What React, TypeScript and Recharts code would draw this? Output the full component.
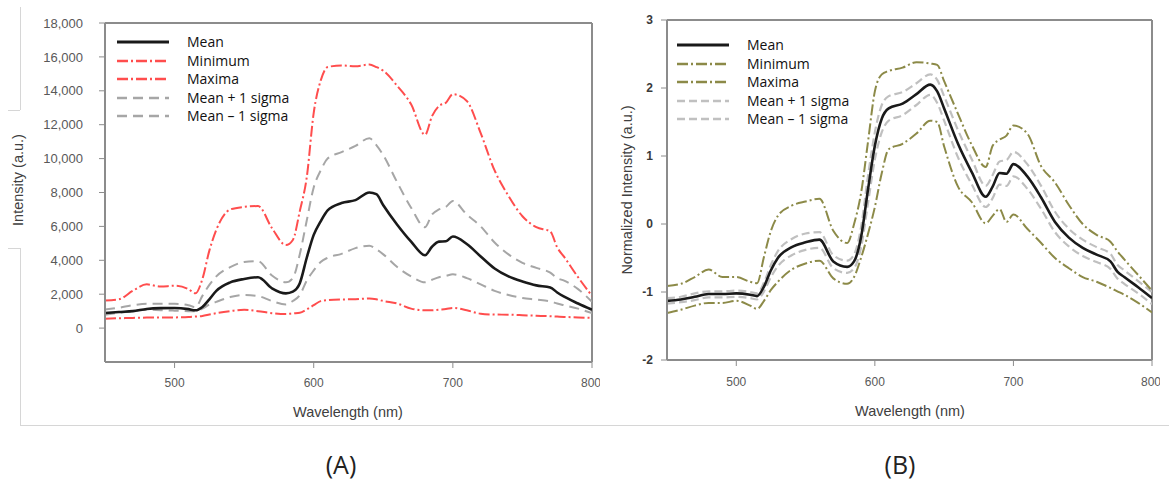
// Two spectral panels: (A) raw intensity, (B) normalized intensity.
import React from "react";
import { LineChart, Line, XAxis, YAxis, ReferenceLine } from "recharts";

// ---- data ------------------------------------------------------------------
const WAVELENGTH = [
  450, 460, 470, 480, 490, 500, 510, 515, 520, 525, 530, 540, 550, 560, 570, 580,
  585, 590, 595, 600, 605, 610, 620, 630, 640, 645, 650, 660, 670, 680, 685, 690,
  695, 700, 710, 720, 730, 740, 750, 760, 770, 775, 780, 790, 800,
];

// panel A (a.u.)
const A_MEAN = [
  890, 950, 1000, 1130, 1180, 1190, 1120, 1050, 1250, 1700, 2200, 2700, 2900, 3000, 2350, 2050,
  2150, 2650, 4150, 5500, 6300, 6950, 7380, 7550, 8000, 7900, 7250, 6100, 5100, 4300, 4800, 5100,
  5120, 5400, 4960, 4230, 3520, 3050, 2750, 2520, 2400, 2100, 1850, 1450, 1080,
];
const A_MIN = [
  550, 580, 600, 620, 620, 630, 650, 680, 720, 800, 880, 1000, 1080, 1000, 880, 830,
  870, 900, 1100, 1350, 1590, 1650, 1690, 1700, 1750, 1700, 1600, 1450, 1150, 1050, 1050, 1090,
  1120, 1190, 1050, 850, 800, 790, 760, 730, 700, 680, 660, 630, 600,
];
const A_MAX = [
  1630, 1700, 2200, 2580, 2450, 2500, 2300, 2050, 2900, 4570, 5800, 7000, 7150, 7200, 5900, 4900,
  5200, 6900, 8900, 12700, 14600, 15400, 15500, 15450, 15550, 15400, 15180, 14290, 13200, 11400, 12500, 13100,
  13300, 13800, 13400, 11500, 9300, 7800, 6600, 5950, 5700, 4760, 4200, 3000, 1900,
];
const A_PLUS = [
  1090, 1200, 1350, 1430, 1430, 1430, 1350, 1230, 1900, 2550, 3050, 3600, 3900, 3950, 3100, 2700,
  2950, 4360, 6350, 8300, 9300, 10000, 10380, 10750, 11200, 10800, 10200, 8600, 7100, 5950, 6700, 7000,
  7150, 7500, 6700, 6000, 5050, 4350, 3850, 3550, 3270, 2950, 2800, 2300, 1550,
];
const A_MINUS = [
  790, 900, 1000, 1090, 1060, 1030, 1000, 990, 1150, 1390, 1550, 1830, 1950, 1890, 1600, 1390,
  1600, 1950, 2800, 3400, 3900, 4150, 4380, 4720, 4860, 4650, 4350, 3600, 3050, 2700, 2850, 3000,
  3080, 3170, 2950, 2580, 2200, 1950, 1780, 1680, 1570, 1450, 1350, 1150, 880,
];

// panel B (normalized)
const B_MEAN = [
  -1.13, -1.11, -1.07, -1.03, -1.03, -1.02, -1.04, -1.06, -0.92, -0.68, -0.5, -0.34, -0.27, -0.23, -0.55, -0.63,
  -0.55, -0.2, 0.5, 1.15, 1.55, 1.7, 1.77, 1.91, 2.05, 1.95, 1.7, 1.18, 0.76, 0.4, 0.55, 0.75,
  0.74, 0.88, 0.7, 0.39, 0.03, -0.2, -0.35, -0.45, -0.55, -0.7, -0.78, -0.93, -1.09,
];
const B_MIN = [
  -1.31, -1.26, -1.2, -1.16, -1.16, -1.13, -1.2, -1.25, -1.13, -0.97, -0.85, -0.67, -0.58, -0.54, -0.8, -0.88,
  -0.78, -0.5, -0.15, 0.25, 0.75, 1.1, 1.18, 1.33, 1.52, 1.5, 1.14, 0.55, 0.32, 0.01, 0.12, 0.22,
  0.03, 0.14, -0.07, -0.28, -0.5, -0.65, -0.78, -0.85, -0.94, -0.99, -1.04, -1.16, -1.3,
];
const B_MAX = [
  -0.91, -0.88, -0.78, -0.67, -0.78, -0.78, -0.85, -0.87, -0.48, -0.1, 0.12, 0.27, 0.33, 0.37, -0.1, -0.28,
  0.0, 0.45, 1.2, 1.95, 2.2, 2.25, 2.3, 2.38, 2.36, 2.34, 2.1, 1.62, 1.16, 0.84, 1.15, 1.24,
  1.3, 1.45, 1.33, 0.85, 0.61, 0.28, 0.0, -0.16, -0.26, -0.4, -0.52, -0.75, -0.98,
];
const B_PLUS = [
  -1.09, -1.07, -1.02, -0.99, -0.99, -0.98, -1.0, -1.02, -0.86, -0.6, -0.4, -0.22, -0.14, -0.12, -0.46, -0.54,
  -0.45, -0.05, 0.7, 1.35, 1.75, 1.88, 1.94, 2.07, 2.2, 2.12, 1.88, 1.38, 0.95, 0.56, 0.72, 0.92,
  0.94, 1.06, 0.88, 0.56, 0.18, -0.07, -0.23, -0.34, -0.44, -0.6, -0.68, -0.84, -1.0,
];
const B_MINUS = [
  -1.17, -1.15, -1.12, -1.08, -1.08, -1.07, -1.09, -1.11, -0.99, -0.78, -0.62, -0.46, -0.38, -0.35, -0.65, -0.72,
  -0.65, -0.35, 0.3, 0.95, 1.35, 1.52, 1.6, 1.75, 1.9, 1.78, 1.52, 0.98, 0.58, 0.25, 0.38, 0.58,
  0.56, 0.7, 0.52, 0.22, -0.12, -0.33, -0.47, -0.56, -0.66, -0.8, -0.88, -1.02, -1.18,
];

const X_TICKS = [500, 600, 700, 800];
const A_TICKS = [0, 2000, 4000, 6000, 8000, 10000, 12000, 14000, 16000, 18000];
const B_TICKS = [-2, -1, 0, 1, 2, 3];
const LEGEND_NAMES = ["Mean", "Minimum", "Maxima", "Mean + 1 sigma", "Mean \u2013 1 sigma"];

// ---- styles ------------------------------------------------------------------
const AXIS = "#8c8c8c";
const RED = "#FF4D4D";
const OLIVE = "#8C8A48";
const GREY_A = "#A6A6A6";
const GREY_B = "#C0C0C0";
const DASHDOT = "11 3 2 3";

type SeriesStyle = { key: string; color: string; width: number; dash?: string };

const A_STYLES: SeriesStyle[] = [
  { key: "mean", color: "#1a1a1a", width: 2.6 },
  { key: "min", color: RED, width: 2, dash: DASHDOT },
  { key: "max", color: RED, width: 2, dash: DASHDOT },
  { key: "plus", color: GREY_A, width: 2, dash: "10 6" },
  { key: "minus", color: GREY_A, width: 2, dash: "10 6" },
];
const B_STYLES: SeriesStyle[] = [
  { key: "mean", color: "#1a1a1a", width: 2.6 },
  { key: "min", color: OLIVE, width: 2, dash: DASHDOT },
  { key: "max", color: OLIVE, width: 2, dash: DASHDOT },
  { key: "plus", color: GREY_B, width: 2.2, dash: "8 4" },
  { key: "minus", color: GREY_B, width: 2.2, dash: "8 4" },
];

const rowsA = WAVELENGTH.map((w, i) => ({
  w, mean: A_MEAN[i], min: A_MIN[i], max: A_MAX[i], plus: A_PLUS[i], minus: A_MINUS[i],
}));
const rowsB = WAVELENGTH.map((w, i) => ({
  w, mean: B_MEAN[i], min: B_MIN[i], max: B_MAX[i], plus: B_PLUS[i], minus: B_MINUS[i],
}));

const tickFont = { fontFamily: "Liberation Sans, Arial, sans-serif" };
const titleStyle: React.CSSProperties = {
  position: "absolute", fontFamily: "Liberation Sans, Arial, sans-serif",
  fontSize: 14.5, color: "#404040", whiteSpace: "nowrap",
};
const panelTag: React.CSSProperties = {
  position: "absolute", transform: "translate(-50%, -50%)", fontFamily: "Open Sans, sans-serif",
  fontSize: 25, lineHeight: 1, color: "#222", whiteSpace: "nowrap",
};

// ---- pieces ------------------------------------------------------------------
function SeriesLegend({ styles, left, top }: { styles: SeriesStyle[]; left: number; top: number }) {
  return (
    <div style={{ position: "absolute", left, top, fontFamily: "Open Sans, sans-serif", fontSize: 14, color: "#111" }}>
      {styles.map((s, i) => (
        <div key={s.key} style={{ display: "flex", alignItems: "center", height: 18.5 }}>
          <svg width={52} height={8} style={{ marginRight: 18 }}>
            <line x1={0} y1={4} x2={52} y2={4} stroke={s.color} strokeWidth={s.key === "mean" ? 3 : 2.4}
              strokeDasharray={s.dash} />
          </svg>
          <span style={{ lineHeight: "18px" }}>{LEGEND_NAMES[i]}</span>
        </div>
      ))}
    </div>
  );
}

function Panel({
  rows, styles, domain, ticks, fmt, yWidth, top, plotH, tickMarginY, tickMarginX, boldY,
}: {
  rows: Record<string, number>[]; styles: SeriesStyle[]; domain: [number, number]; ticks: number[];
  fmt: (v: number) => string; yWidth: number; top: number; plotH: number; tickMarginY: number;
  tickMarginX: number; boldY?: boolean;
}) {
  return (
    <LineChart width={600} height={400} data={rows} margin={{ top, right: 8, left: 0, bottom: 0 }}>
      <XAxis dataKey="w" type="number" domain={[450, 800]} ticks={X_TICKS} allowDataOverflow
        height={400 - top - plotH} stroke={AXIS} axisLine={{ stroke: AXIS, strokeWidth: 2 }}
        tickLine={{ stroke: AXIS }} tickMargin={tickMarginX}
        tick={{ ...tickFont, fill: "#595959", fontSize: 12 }} />
      <YAxis type="number" domain={domain} ticks={ticks} tickFormatter={fmt} width={yWidth}
        allowDataOverflow stroke={AXIS} axisLine={{ stroke: AXIS, strokeWidth: 2 }}
        tickLine={{ stroke: AXIS }} tickMargin={tickMarginY}
        tick={{ ...tickFont, fill: boldY ? "#3a3a3a" : "#595959", fontSize: boldY ? 12 : 13, fontWeight: boldY ? "bold" : "normal" }} />
      <ReferenceLine y={domain[1]} stroke={AXIS} strokeWidth={2} />
      <ReferenceLine x={800} stroke={AXIS} strokeWidth={2} />
      {styles.slice().reverse().map((s) => (
        <Line key={s.key} dataKey={s.key} type="monotone" stroke={s.color} strokeWidth={s.width}
          strokeDasharray={s.dash} dot={false} activeDot={false} isAnimationActive={false} />
      ))}
    </LineChart>
  );
}

export default function App() {
  const line = (l: number, t: number, w: number, h: number) => (
    <div style={{ position: "absolute", left: l, top: t, width: w, height: h, background: "#d6d6d6" }} />
  );
  return (
    <div style={{ position: "absolute", left: 0, top: 0, width: 1169, height: 479, background: "#fff" }}>
      {line(20, 7, 1, 103)}
      {line(8, 110, 12, 1)}
      {line(8, 248, 12, 1)}
      {line(20, 248, 1, 177)}
      {line(20, 425, 1149, 1)}

      <div style={{ position: "absolute", left: 0, top: 0 }}>
        <Panel rows={rowsA} styles={A_STYLES} domain={[-2000, 18000]} ticks={A_TICKS}
          fmt={(v) => v.toLocaleString("en-US")} yWidth={105} top={23} plotH={339}
          tickMarginY={16} tickMarginX={10} />
      </div>
      <div style={{ position: "absolute", left: 560, top: 0 }}>
        <Panel rows={rowsB} styles={B_STYLES} domain={[-2, 3]} ticks={B_TICKS}
          fmt={(v) => String(v)} yWidth={107} top={20} plotH={340}
          tickMarginY={8} tickMarginX={11} boldY />
      </div>

      <SeriesLegend styles={A_STYLES} left={117} top={33} />
      <SeriesLegend styles={B_STYLES} left={677} top={36} />

      <div style={{ ...titleStyle, left: 18, top: 180, transform: "translate(-50%, -50%) rotate(-90deg)" }}>
        Intensity (a.u.)
      </div>
      <div style={{ ...titleStyle, left: 627, top: 190, transform: "translate(-50%, -50%) rotate(-90deg)" }}>
        Normalized Intensity (a.u.)
      </div>
      <div style={{ ...titleStyle, left: 348, top: 412, transform: "translate(-50%, -50%)" }}>Wavelength (nm)</div>
      <div style={{ ...titleStyle, left: 910, top: 411, transform: "translate(-50%, -50%)" }}>Wavelength (nm)</div>

      <div style={{ ...panelTag, left: 341, top: 464 }}>(A)</div>
      <div style={{ ...panelTag, left: 900, top: 464 }}>(B)</div>
    </div>
  );
}
